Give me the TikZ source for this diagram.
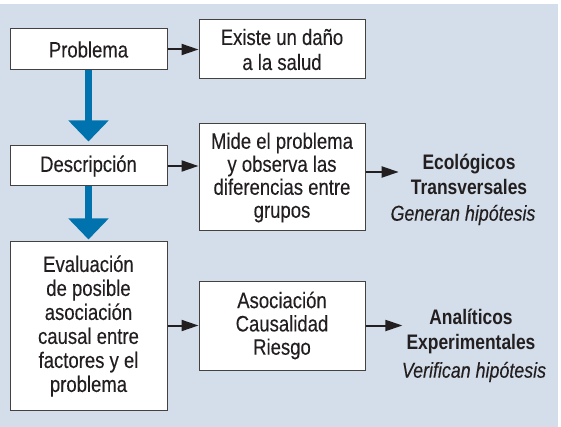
\documentclass[tikz,border=0pt]{standalone}
\usepackage{fontspec}
\setmainfont{Liberation Sans}[FakeStretch=0.83, UprightFeatures={FakeBold=0.2}, ItalicFeatures={FakeBold=0.2}]
\usetikzlibrary{arrows.meta}
\definecolor{bg}{HTML}{D3DEEA}
\definecolor{bluearr}{HTML}{0072AE}
\definecolor{ink}{HTML}{231F20}
\begin{document}
\begin{tikzpicture}[x=1pt,y=-1pt,
 box/.style={draw=ink!85, line width=1pt, fill=white, text=ink, align=center, inner sep=0pt},
 bigarrow/.style={draw=bluearr, line width=7pt, -{Triangle[width=39pt,length=21pt]}, fill=bluearr},
 smallarrow/.style={draw=ink, line width=2pt, -{Triangle[width=11pt,length=17pt]}, fill=ink},
 lbl/.style={text=ink, align=center, inner sep=0pt}]
\fill[bg] (0,4) rectangle (558,427);
\useasboundingbox (0,0) rectangle (561,427);
\node[box, minimum width=157pt, minimum height=41pt, font=\fontsize{22.3}{24}\selectfont] (prob) at (88.5,49.5) {Problema};
\node[box, minimum width=166pt, minimum height=59pt, font=\fontsize{22.3}{25}\selectfont] (existe) at (282,49.5) {Existe un daño\\a la salud};
\node[box, minimum width=157pt, minimum height=40pt, font=\fontsize{22.3}{24}\selectfont] (desc) at (88.5,166) {Descripción};
\node[box, minimum width=166pt, minimum height=107pt, font=\fontsize{22.3}{23}\selectfont] (mide) at (282,177.5) {Mide el problema\\y observa las\\diferencias entre\\grupos};
\node[box, minimum width=157pt, minimum height=168pt, font=\fontsize{22.3}{24}\selectfont] (eval) at (88.5,326) {Evaluación\\de posible\\asociación\\causal entre\\factores y el\\problema};
\node[box, minimum width=166pt, minimum height=89pt, font=\fontsize{22.3}{23.3}\selectfont] (asoc) at (282,325.5) {Asociación\\Causalidad\\Riesgo};
\node[lbl, font=\fontsize{21}{25}\selectfont\bfseries] (ecol) at (469,174) {Ecológicos\\Transversales};
\node[lbl, font=\fontsize{21.5}{24}\selectfont\itshape] (gen) at (463,215) {Generan hipótesis};
\node[lbl, font=\fontsize{21}{25}\selectfont\bfseries] (anal) at (471,331) {Analíticos\\Experimentales};
\node[lbl, font=\fontsize{21.5}{24}\selectfont\itshape] (ver) at (474,372) {Verifican hipótesis};
\draw[bigarrow, shorten >=4pt] (prob.south) -- (desc.north);
\draw[bigarrow, shorten >=2pt] (desc.south) -- (eval.north);
\draw[smallarrow] (prob.east) -- (existe.west |- prob.east);
\draw[smallarrow] (desc.east) -- (mide.west |- desc.east);
\draw[smallarrow] (mide.east |- 0,172) -- ([xshift=-12pt]ecol.west |- 0,172);
\draw[smallarrow] (eval.east |- asoc.west) -- (asoc.west);
\draw[smallarrow] (asoc.east) -- ([xshift=-4pt]anal.west |- asoc.east);
\end{tikzpicture}
\end{document}
